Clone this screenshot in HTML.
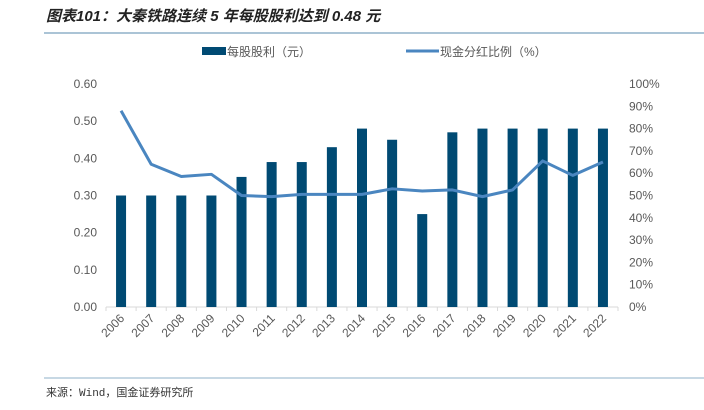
<!DOCTYPE html>
<html><head><meta charset="utf-8"><style>
body{margin:0;background:#fff;width:704px;height:405px;overflow:hidden;font-family:"Liberation Sans","Noto Sans CJK SC",sans-serif}
</style></head><body>
<svg width="704" height="405" xmlns="http://www.w3.org/2000/svg">
<text x="46" y="21" font-size="15" font-weight="bold" font-style="italic" fill="#222" font-family="'Liberation Sans','Noto Sans CJK SC',sans-serif">图表101：大秦铁路连续 5 年每股股利达到 0.48 元</text>
<line x1="44" y1="33" x2="704" y2="33" stroke="#8fb0c8" stroke-width="1.5"/>
<g font-size="12" fill="#595959">
<rect x="202" y="47" width="24" height="8" fill="#004a73"/>
<text x="227" y="56">每股股利（元）</text>
<line x1="406" y1="51" x2="439" y2="51" stroke="#4a86c0" stroke-width="3"/>
<text x="440" y="56">现金分红比例（%）</text>
</g>
<g id="plot"></g>
<line x1="44" y1="378" x2="704" y2="378" stroke="#8fb0c8" stroke-width="1"/>
<text x="46" y="396" font-size="11" fill="#333" font-family="'Liberation Mono','Noto Sans CJK SC',monospace">来源：Wind，国金证券研究所</text>
</svg>
<script>
const years=["2006","2007","2008","2009","2010","2011","2012","2013","2014","2015","2016","2017","2018","2019","2020","2021","2022"];
const dividend=[0.30,0.30,0.30,0.30,0.35,0.39,0.39,0.43,0.48,0.45,0.25,0.47,0.48,0.48,0.48,0.48,0.48];
const payout=[88,64,58.5,59.5,50,49.5,50.5,50.5,50.5,53,52,52.5,49.5,52.5,65.5,59,65];
const leftTicks=[0,0.1,0.2,0.3,0.4,0.5,0.6];
const rightTicks=[0,10,20,30,40,50,60,70,80,90,100];
const NS="http://www.w3.org/2000/svg";
const g=document.getElementById('plot');
const X0=106,X1=618,Y0=307,Y1=84;
const step=(X1-X0)/years.length;
const xc=i=>X0+step*(i+0.5);
const yl=v=>Y0-(v/0.6)*(Y0-Y1);
const yr=v=>Y0-(v/100)*(Y0-Y1);
function mk(t,a,txt){const e=document.createElementNS(NS,t);for(const k in a)e.setAttribute(k,a[k]);if(txt!=null)e.textContent=txt;g.appendChild(e);return e;}
leftTicks.forEach(v=>{const e=mk('text',{x:97,y:yl(v)+4,'text-anchor':'end','font-size':12,fill:'#595959'},v.toFixed(2));

});
rightTicks.forEach(v=>{const e=mk('text',{x:629,y:yr(v)+4,'font-size':12,fill:'#595959'},v+'%');

});
const ax=mk('line',{x1:X0,y1:Y0,x2:X1,y2:Y0,stroke:'#d9d9d9','stroke-width':1});


for(let i=0;i<=years.length;i++){const t=mk('line',{x1:X0+step*i,y1:Y0,x2:X0+step*i,y2:Y0+4,stroke:'#d9d9d9'});

}
years.forEach((y,i)=>{const b=mk('rect',{x:xc(i)-5,y:yl(dividend[i]),width:10,height:Y0-yl(dividend[i]),fill:'#004a73'});


const cx=xc(i)+4,cy=Y0+12;
const t=mk('text',{x:cx,y:cy,'text-anchor':'end','font-size':12,fill:'#595959',transform:`rotate(-45 ${cx} ${cy})`},y);

});
const pl=mk('polyline',{points:payout.map((v,i)=>xc(i)+','+yr(v)).join(' '),fill:'none',stroke:'#4a86c0','stroke-width':3,'stroke-linejoin':'round'});


</script>
</body></html>
